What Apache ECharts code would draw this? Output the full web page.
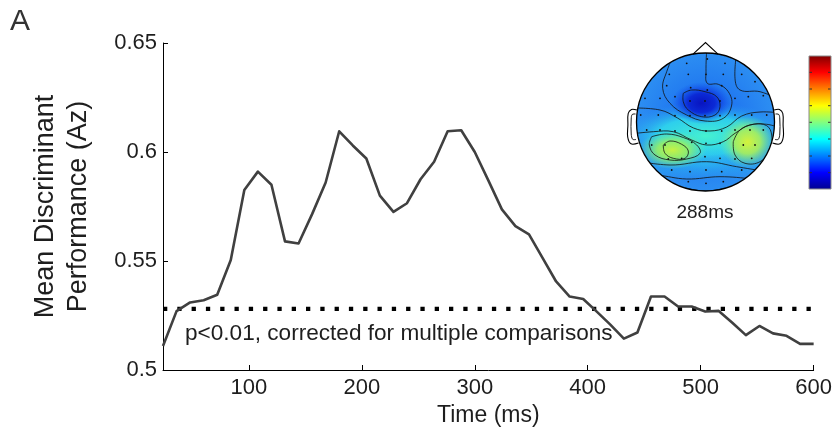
<!DOCTYPE html>
<html><head><meta charset="utf-8">
<script src="https://cdn.jsdelivr.net/npm/echarts@6/dist/echarts.min.js"></script>
<style>html,body{margin:0;padding:0;background:#fff}#c{width:835px;height:437px}</style>
</head><body><div id="c"></div>
<script>
// ---- data ----
const timesMs = [24,36,48,60,72,84,96,108,120,132,144,156,168,180,192,204,216,228,240,252,264,276,288,300,312,324,336,348,360,372,384,396,408,420,432,444,456,468,480,492,504,516,528,540,552,564,576,588,600];
const meanAz = [0.511,0.527,0.531,0.532,0.5345,0.5505,0.5826,0.591,0.585,0.559,0.558,0.5715,0.586,0.6095,0.603,0.597,0.580,0.5725,0.5765,0.5875,0.5955,0.6095,0.610,0.600,0.587,0.5737,0.566,0.5622,0.5514,0.5406,0.5337,0.5326,0.5268,0.5208,0.5144,0.5172,0.5337,0.5337,0.5291,0.5291,0.5268,0.5271,0.5217,0.516,0.5202,0.5168,0.5157,0.512,0.512];
const threshold = 0.528;
const thresholdSpan = [24, 600];
const xTicks = [100,200,300,400,500,600];
const yTicks = [0.5,0.55,0.6,0.65];
const thresholdText = 'p<0.01, corrected for multiple comparisons';
const topoLabel = '288ms';
const panelLetter = 'A';

// ---- inset scalp map (illustration) ----
const electrodes = [[-18.8,-58.7],[1.8,-63],[19.5,-58.7],[-36.2,-47.7],[-17.2,-47.7],[0.5,-47.7],[17.8,-47.7],[36.2,-47.7],
 [-38.8,-36.3],[-14.8,-34.3],[1.8,-32],[16.2,-36.3],[49.5,-40.3],[-60.5,-23.7],[-45.5,-23.7],[-30.5,-25.3],[-15.5,-21],[-0.5,-21],
 [14.5,-21],[29.5,-23.7],[42.8,-25.3],[57.8,-26.3],[-64.8,-7],[-47.2,-7],[-30.5,-6.3],[-15.5,-6.3],[-0.5,-6.3],[14.5,-6.3],[29.5,-7],
 [46.2,-7],[61.2,-7],[-58.8,8],[-45.5,8],[-30.5,9],[-15.5,9],[0.5,9],[16.2,9],[29.5,8],[44.5,8],[57.8,8],[-53.8,23],[-40.5,23],
 [-13.8,20.3],[0.5,21.3],[14.5,21.3],[37.8,23],[49.5,23],[-37.2,37],[-23.8,36.3],[-0.5,34.7],[14.5,36.3],[29.5,37],[46.2,36.3],
 [-33.8,48],[-15.5,49.7],[0.5,48],[16.2,49.7],[36.2,48],[-17.2,59.7],[0.5,61.3],[17.8,59.7]];
const contours = [
 [[-22.2,-28.7],[-13.8,-32],[-0.5,-30.3],[11.2,-25.3],[14.5,-15.3],[9.5,-7],[-3.8,-5.3],[-17.2,-12],[-22.2,-20.3],[-22.2,-28.7]],
 [[-30,-72],[-38.8,-50.3],[-42.8,-33.7],[-35.5,-18.7],[-18.8,-7],[-0.5,-1],[17.8,-3.7],[26.2,-17],[22.8,-30.3],[12.8,-37.7],[1.8,-38.7],[0.5,-50.3],[1.2,-72]],
 [[31.5,-72],[29.5,-43.7],[34.5,-32],[54.5,-30.3],[75,-22]],
 [[-75,-14],[-45.5,-12],[-28,-4],[-12,6],[4.5,9],[21.2,5],[36.2,-6],[54.5,-10],[75,-9]],
 [[-75,12],[-52.2,9.7],[-32.2,9.7],[-13.8,18],[1.2,23],[17.8,19.7],[29.5,11.3],[44.5,3],[61.2,2.3],[75,6]],
 [[-53.8,14.7],[-38.8,12],[-22.2,15.5],[-8.8,23],[-5.5,31.3],[-18.8,37],[-35.5,38],[-50.5,33],[-56.2,23],[-53.8,14.7]],
 [[27.8,19.7],[34.5,8],[47.8,2.3],[61.2,3.7],[66.2,13],[64.5,28],[54.5,39.7],[39.5,41.3],[29.5,33],[27.8,19.7]],
 [[-42.2,23],[-35.5,19],[-23.8,22.3],[-17.2,29],[-20.5,36.3],[-32.2,36.3],[-40.5,31.3],[-42.2,23]],
 [[-75,38],[-35.5,43],[1.2,39.7],[31.2,44.7],[75,52]],
 [[-75,52],[-48.8,53],[-18.8,57],[14.5,54.7],[47.8,57],[75,60]],
 [[-45,70],[-28.8,65.7],[0.5,69],[29.5,65.7],[45,70]]
];
const blobs = [
 // [cx, cy, rx, ry, colorStops]
 [0, 14, 86, 34, [[0,'#46f2cf'],[0.55,'rgba(48,222,236,0.85)'],[1,'rgba(40,150,240,0)']]],
 [0, 42, 78, 16, [[0,'rgba(44,190,242,0.7)'],[1,'rgba(44,190,242,0)']]],
 [-33, 28, 34, 19, [[0,'#c6f245'],[0.45,'rgba(150,240,100,0.9)'],[1,'rgba(100,240,160,0)']]],
 [42, 20, 28, 26, [[0,'#d4f23c'],[0.45,'rgba(170,240,90,0.9)'],[1,'rgba(100,240,160,0)']]],
 [-4, -19, 30, 21, [[0,'#0814c0'],[0.45,'#0b2ad6'],[1,'rgba(16,80,240,0)']]]
];
const jetStops = [[0,'#800000'],[0.125,'#ff0000'],[0.375,'#ffff00'],[0.5,'#80ff80'],[0.625,'#00ffff'],[0.875,'#0000ff'],[1,'#00008f']];
const colorbarTicks = [72.3, 89, 105.7, 122.3, 139, 156, 172.7];

const FONT = "'Liberation Sans', Arial, Helvetica, sans-serif";
const TXT = '#1e1e1e';

const chart = echarts.init(document.getElementById('c'), null, {renderer: 'canvas'});

const headR = 69;
const topoChildren = [];
topoChildren.push({type:'circle', shape:{cx:0, cy:0, r:headR}, silent:true,
  style:{fill:{type:'radial', x:0.5, y:0.5, r:0.5, colorStops:[{offset:0,color:'#1664ee'},{offset:1,color:'#2c8ef2'}]}}});
blobs.forEach(b => {
  topoChildren.push({type:'circle', x:b[0], y:b[1], scaleX:b[2], scaleY:b[3], shape:{cx:0, cy:0, r:1}, silent:true,
    style:{fill:{type:'radial', x:0.5, y:0.5, r:0.5, colorStops:b[4].map(s => ({offset:s[0], color:s[1]}))}}});
});
contours.forEach(c => {
  topoChildren.push({type:'polyline', shape:{points:c, smooth:0.4}, silent:true,
    style:{stroke:'#111', lineWidth:0.8, fill:null}});
});
electrodes.forEach(p => {
  topoChildren.push({type:'circle', shape:{cx:p[0], cy:p[1], r:0.9}, silent:true, style:{fill:'#111'}});
});
// white mask outside the head: keyhole polygon (outer box clockwise, hole counter-clockwise)
const maskPts = [[-98,0],[-98,-86],[98,-86],[98,86],[-98,86],[-98,0.01],[-headR,0.01]];
for (let k = 0; k <= 180; k++) {
  const a = Math.PI - k * 2 * Math.PI / 180;
  maskPts.push([headR * Math.cos(a), headR * Math.sin(a)]);
}
topoChildren.push({type:'polygon', silent:true, shape:{points:maskPts}, style:{fill:'#ffffff', stroke:null}});
topoChildren.push({type:'circle', shape:{cx:0, cy:0, r:headR}, silent:true, style:{fill:null, stroke:'#000', lineWidth:1.3}});
// ears
const earOuter = [[-68.6,-12],[-74,-12.6],[-77.3,-8.5],[-77.6,3],[-77.8,15],[-74.5,21.8],[-67,21]];
const earInner = [[-70,-8],[-73.3,-7.5],[-74.3,-3],[-74.3,12],[-72.8,17.3],[-69.5,17.5]];
[earOuter, earInner].forEach((pts, i) => {
  topoChildren.push({type:'polyline', silent:true, shape:{points:pts, smooth:0.35}, style:{fill:null, stroke:'#000', lineWidth:i ? 0.9 : 1.1}});
  topoChildren.push({type:'polyline', silent:true, shape:{points:pts.map(p => [-p[0], p[1]]), smooth:0.35}, style:{fill:null, stroke:'#000', lineWidth:i ? 0.9 : 1.1}});
});
// nose
topoChildren.push({type:'polyline', silent:true, shape:{points:[[-12.5,-67.8],[0,-79.5],[12.5,-67.8]]}, style:{fill:null, stroke:'#000', lineWidth:1.1}});

const graphics = [
  {type:'group', x:705.5, y:122, children:topoChildren},
  {type:'text', x:705, y:213, silent:true, style:{text:topoLabel, font:'19px ' + FONT, fill:TXT, textAlign:'center', textVerticalAlign:'middle'}},
  {type:'rect', silent:true, shape:{x:809, y:56, width:22, height:133},
    style:{stroke:'#8a8a8a', lineWidth:1, fill:{type:'linear', x:0, y:0, x2:0, y2:1, colorStops:jetStops.map(s => ({offset:s[0], color:s[1]}))}}},
  {type:'text', x:10, y:22, silent:true, style:{text:panelLetter, font:'30px ' + FONT, fill:'#333', textAlign:'left', textVerticalAlign:'middle'}},
  {type:'text', x:185, y:334, silent:true, style:{text:thresholdText, font:'22.6px ' + FONT, fill:TXT, textAlign:'left', textVerticalAlign:'middle'}}
];
colorbarTicks.forEach(y => {
  graphics.push({type:'line', silent:true, shape:{x1:809.5, y1:y, x2:812, y2:y}, style:{stroke:'#333', lineWidth:1}});
  graphics.push({type:'line', silent:true, shape:{x1:828, y1:y, x2:830.5, y2:y}, style:{stroke:'#333', lineWidth:1}});
});

const option = {
  animation: false,
  backgroundColor: '#ffffff',
  grid: {left:163, right:19, top:43, bottom:67, containLabel:false},
  xAxis: {
    type:'value', min:thresholdSpan[0], max:thresholdSpan[1],
    name:'Time (ms)', nameLocation:'middle', nameGap:28,
    nameTextStyle:{fontFamily:FONT, fontSize:23, color:TXT},
    axisLine:{show:true, onZero:false, lineStyle:{color:'#000', width:1}},
    axisTick:{show:true, inside:true, length:5, customValues:xTicks, lineStyle:{color:'#000', width:1}},
    axisLabel:{show:true, customValues:xTicks, margin:7, fontFamily:FONT, fontSize:22, color:TXT},
    splitLine:{show:false}
  },
  yAxis: {
    type:'value', min:0.5, max:0.65, interval:0.05,
    name:'Mean Discriminant\nPerformance (Az)', nameLocation:'middle', nameGap:68,
    nameTextStyle:{fontFamily:FONT, fontSize:27, color:TXT, lineHeight:33},
    axisLine:{show:true, onZero:false, lineStyle:{color:'#000', width:1}},
    axisTick:{show:true, inside:true, length:5, customValues:yTicks, lineStyle:{color:'#000', width:1}},
    axisLabel:{show:true, customValues:yTicks, margin:6, fontFamily:FONT, fontSize:22, color:TXT,
      formatter: v => String(+(+v).toFixed(2))},
    splitLine:{show:false}
  },
  series: [
    {type:'line', name:'threshold', data:thresholdSpan.map(t => [t, threshold]), showSymbol:false, silent:true,
      lineStyle:{color:'#000', width:4.3, type:[4.3, 10], cap:'butt'}, z:2},
    {type:'line', name:'Az', data:timesMs.map((t, i) => [t, meanAz[i]]), showSymbol:false, silent:true,
      lineStyle:{color:'#404040', width:2.6, join:'round'}, z:3}
  ],
  graphic: graphics
};
chart.setOption(option);
</script>
</body></html>
